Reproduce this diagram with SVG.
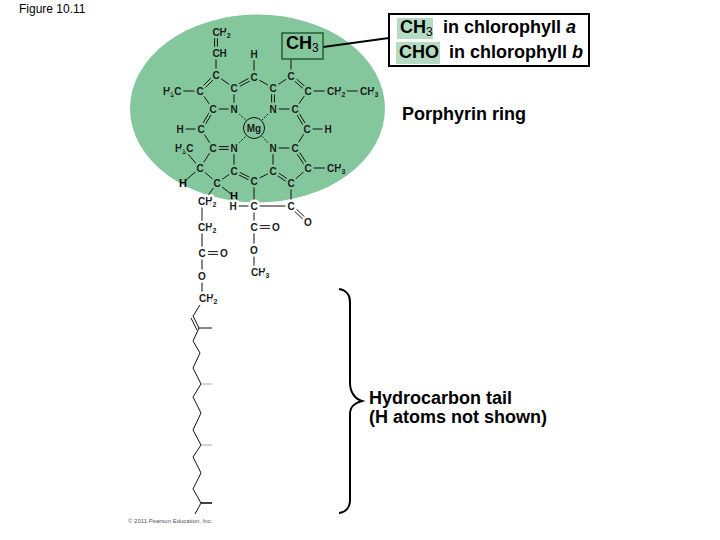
<svg xmlns="http://www.w3.org/2000/svg" width="720" height="540" viewBox="0 0 720 540">
<style>
text{font-family:"Liberation Sans",Arial,sans-serif;fill:#000}
.big{font-size:18px;font-weight:bold}
.a,.w{font-size:10px;font-weight:bold;fill:#1a1a1a;stroke-width:5px;paint-order:stroke;stroke-linejoin:round}
.a{stroke:#85c79d}
.w{stroke:#fff}
.hb{font-size:11px;font-weight:bold}
.s{font-size:7px}
.bs{font-size:12px;font-weight:normal}
#bonds line,#bonds path{stroke:#111;stroke-width:1;fill:none}
#bonds .dot{stroke-dasharray:2 1.5}
#bonds .g{stroke:#aaa}
#bonds .k{stroke-width:1.6}
.o{fill:none;stroke:#000;stroke-width:2}
</style>
<rect width="720" height="540" fill="#fff"/>
<text id="figure-label" x="19" y="13" font-size="12">Figure 10.11</text>
<ellipse id="porphyrin-disc" cx="257.500" cy="108.500" rx="127.500" ry="94" fill="#85c79d"/>
<g id="bonds">
<line x1="214.600" y1="32" x2="214.600" y2="53"/><line x1="217.400" y1="32" x2="217.400" y2="53"/>
<line x1="216" y1="53" x2="216" y2="75"/>
<line x1="216" y1="75" x2="234" y2="88"/>
<line x1="217" y1="76" x2="201" y2="92"/><line x1="215" y1="74" x2="199" y2="90"/>
<line x1="183" y1="91" x2="200" y2="91"/>
<line x1="200" y1="91" x2="213" y2="109"/>
<line x1="213" y1="109" x2="234" y2="109"/>
<line x1="234" y1="88" x2="234" y2="109"/>
<line x1="234.700" y1="89.200" x2="254.700" y2="78.200"/><line x1="233.300" y1="86.800" x2="253.300" y2="75.800"/>
<line x1="254" y1="54" x2="254" y2="77"/>
<line x1="254" y1="77" x2="273" y2="88"/>
<line x1="271.600" y1="88" x2="271.600" y2="109"/><line x1="274.400" y1="88" x2="274.400" y2="109"/>
<line x1="273" y1="88" x2="291" y2="76"/>
<line x1="290" y1="77" x2="307" y2="92"/><line x1="292" y1="75" x2="309" y2="90"/>
<line x1="291" y1="59" x2="291" y2="76"/>
<line x1="308" y1="91" x2="336" y2="91"/>
<line x1="336" y1="91" x2="369" y2="91"/>
<line x1="273" y1="109" x2="295" y2="109"/>
<line x1="295" y1="109" x2="308" y2="91"/>
<line x1="293.800" y1="109.700" x2="305.800" y2="129.700"/><line x1="296.200" y1="108.300" x2="308.200" y2="128.300"/>
<line x1="214.200" y1="109.700" x2="202.200" y2="129.700"/><line x1="211.800" y1="108.300" x2="199.800" y2="128.300"/>
<line x1="180" y1="129" x2="201" y2="129"/>
<line x1="307" y1="129" x2="328" y2="129"/>
<line x1="201" y1="129" x2="213" y2="148"/>
<line x1="307" y1="129" x2="295" y2="148"/>
<line x1="213" y1="146.600" x2="234" y2="146.600"/><line x1="213" y1="149.400" x2="234" y2="149.400"/>
<line x1="273" y1="148" x2="295" y2="148"/>
<line x1="213" y1="148" x2="200" y2="168"/>
<line x1="200" y1="168" x2="187" y2="153"/>
<line x1="200" y1="168" x2="186" y2="180"/>
<line x1="200" y1="168" x2="217" y2="183"/>
<line x1="234" y1="148" x2="234" y2="171"/>
<line x1="234" y1="171" x2="217" y2="183"/>
<line x1="233.400" y1="172.200" x2="253.400" y2="182.200"/><line x1="234.600" y1="169.800" x2="254.600" y2="179.800"/>
<line x1="254" y1="181" x2="273" y2="171"/>
<line x1="273" y1="148" x2="273" y2="171"/>
<line x1="272.200" y1="172.200" x2="290.200" y2="184.200"/><line x1="273.800" y1="169.800" x2="291.800" y2="181.800"/>
<line x1="291" y1="183" x2="308" y2="168"/>
<line x1="293.800" y1="148.800" x2="306.800" y2="168.800"/><line x1="296.200" y1="147.200" x2="309.200" y2="167.200"/>
<line x1="308" y1="168" x2="336" y2="168"/>
<line x1="291" y1="183" x2="291" y2="206"/>
<line x1="254" y1="181" x2="254" y2="206"/>
<line x1="233" y1="206" x2="291" y2="206"/>
<line x1="290" y1="207" x2="307" y2="223"/><line x1="292" y1="205" x2="309" y2="221"/>
<line x1="254" y1="206" x2="254" y2="227"/>
<line x1="254" y1="225.600" x2="276" y2="225.600"/><line x1="254" y1="228.400" x2="276" y2="228.400"/>
<line x1="254" y1="227" x2="254" y2="272"/>
<line x1="217" y1="183" x2="231" y2="194"/>
<line x1="217" y1="183" x2="204" y2="201"/>
<line x1="202" y1="201" x2="202" y2="298"/>
<line x1="202" y1="251.600" x2="224" y2="251.600"/><line x1="202" y1="254.400" x2="224" y2="254.400"/>
<line class="dot" x1="234" y1="109" x2="254" y2="128"/>
<line class="dot" x1="273" y1="109" x2="254" y2="128"/>
<line class="dot" x1="234" y1="148" x2="254" y2="128"/>
<line class="dot" x1="273" y1="148" x2="254" y2="128"/>
<path d="M200 305L193 316L199 328L193 341L200 353L193 368L201 384L193 397L201 413L193 430L201 445L193 457L201 473L193 489L201 503L195 514"/>
<line x1="191" y1="318" x2="197" y2="330"/>
<line x1="199" y1="328" x2="212" y2="328"/>
<line class="g" x1="201" y1="384" x2="212" y2="384"/>
<line class="g" x1="201" y1="445" x2="212" y2="445"/>
<line class="k" x1="201" y1="503" x2="212" y2="503"/>
</g>
<g id="magnesium">
<circle cx="254" cy="128" r="10.500" fill="#85c79d" stroke="#111" stroke-width="1"/>
<text class="a" style="stroke:none" x="254" y="131.500" text-anchor="middle">Mg</text>
</g>
<g id="atoms-ring">
<text class="a" x="212.400" y="36">CH<tspan class="s" dy="2">2</tspan></text>
<text class="a" x="212.400" y="57">CH</text>
<text class="a" x="163" y="94.600">H<tspan class="s" dy="2">3</tspan><tspan dy="-2">C</tspan></text>
<text class="a" x="327" y="94.600">CH<tspan class="s" dy="2">2</tspan></text>
<text class="a" x="360" y="94.600">CH<tspan class="s" dy="2">3</tspan></text>
<text class="a" x="254" y="58" text-anchor="middle">H</text>
<text class="a" x="175" y="151.600">H<tspan class="s" dy="2">3</tspan><tspan dy="-2">C</tspan></text>
<text class="a" x="327" y="171.600">CH<tspan class="s" dy="2">3</tspan></text>
<text class="a" x="180" y="132.600" text-anchor="middle">H</text>
<text class="a" x="328" y="132.600" text-anchor="middle">H</text>
<g text-anchor="middle">
<text class="a" x="216" y="78.600">C</text><text class="a" x="234" y="91.600">C</text><text class="a" x="254" y="80.600">C</text>
<text class="a" x="273" y="91.600">C</text><text class="a" x="291" y="79.600">C</text><text class="a" x="308" y="94.600">C</text>
<text class="a" x="200" y="94.600">C</text><text class="a" x="213" y="112.600">C</text><text class="a" x="234" y="112.600">N</text>
<text class="a" x="273" y="112.600">N</text><text class="a" x="295" y="112.600">C</text><text class="a" x="201" y="132.600">C</text>
<text class="a" x="307" y="132.600">C</text><text class="a" x="213" y="151.600">C</text><text class="a" x="234" y="151.600">N</text>
<text class="a" x="273" y="151.600">N</text><text class="a" x="295" y="151.600">C</text><text class="a" x="200" y="171.600">C</text>
<text class="a" x="234" y="174.600">C</text><text class="a" x="273" y="174.600">C</text><text class="a" x="308" y="171.600">C</text>
<text class="a" x="254" y="184.600">C</text><text class="a" x="291" y="186.600">C</text><text class="a" x="217" y="186.600">C</text>
</g>
<text class="hb" x="183" y="187" text-anchor="middle">H</text>
<text class="hb" x="234" y="200" text-anchor="middle">H</text>
</g>
<g id="atoms-chains">
<text class="w" x="198" y="204.600">CH<tspan class="s" dy="2">2</tspan></text>
<text class="w" x="198" y="230.600">CH<tspan class="s" dy="2">2</tspan></text>
<text class="w" x="199" y="301.600">CH<tspan class="s" dy="2">2</tspan></text>
<text class="w" x="251" y="275.600">CH<tspan class="s" dy="2">3</tspan></text>
<g text-anchor="middle">
<text class="w" x="233" y="209.600">H</text><text class="w" x="254" y="209.600">C</text><text class="w" x="291" y="209.600">C</text>
<text class="w" x="308" y="225.600">O</text><text class="w" x="254" y="230.600">C</text><text class="w" x="276" y="230.600">O</text>
<text class="w" x="254" y="253.600">O</text><text class="w" x="202" y="256.600">C</text><text class="w" x="224" y="256.600">O</text>
<text class="w" x="202" y="279.600">O</text>
</g>
</g>
<g id="ch3-box">
<line x1="323" y1="47" x2="389" y2="38" stroke="#000" stroke-width="2"/>
<rect x="282" y="33" width="41" height="26" fill="#85c79d" stroke="#2a5a3a" stroke-width="1.500"/>
<text class="big" x="286" y="49">CH<tspan class="bs" dy="3">3</tspan></text>
</g>
<g id="chlorophyll-key">
<rect x="389" y="14" width="200" height="52" fill="#fff" stroke="#000" stroke-width="2"/>
<rect x="397" y="18" width="36" height="21" fill="#b5dcc3"/>
<rect x="396" y="42" width="44" height="22" fill="#b5dcc3"/>
<text class="big" x="400" y="33">CH<tspan class="bs" dy="3">3</tspan></text>
<text class="big" x="443" y="33">in chlorophyll <tspan font-style="italic">a</tspan></text>
<text class="big" x="399" y="58">CHO</text>
<text class="big" x="449" y="58">in chlorophyll <tspan font-style="italic">b</tspan></text>
</g>
<text id="ring-label" class="big" x="402" y="120">Porphyrin ring</text>
<g id="tail-brace">
<path class="o" d="M339 289C346 290 350 295 350 302V383C350 392 355 399 362 401C355 403 350 406 350 414V500C350 507 346 512 339 513"/>
<text class="big" x="369" y="404">Hydrocarbon tail</text>
<text class="big" x="369" y="423">(H atoms not shown)</text>
</g>
<text id="copyright" x="128" y="523" font-size="6" style="fill:#555">© 2011 Pearson Education, Inc.</text>
</svg>
